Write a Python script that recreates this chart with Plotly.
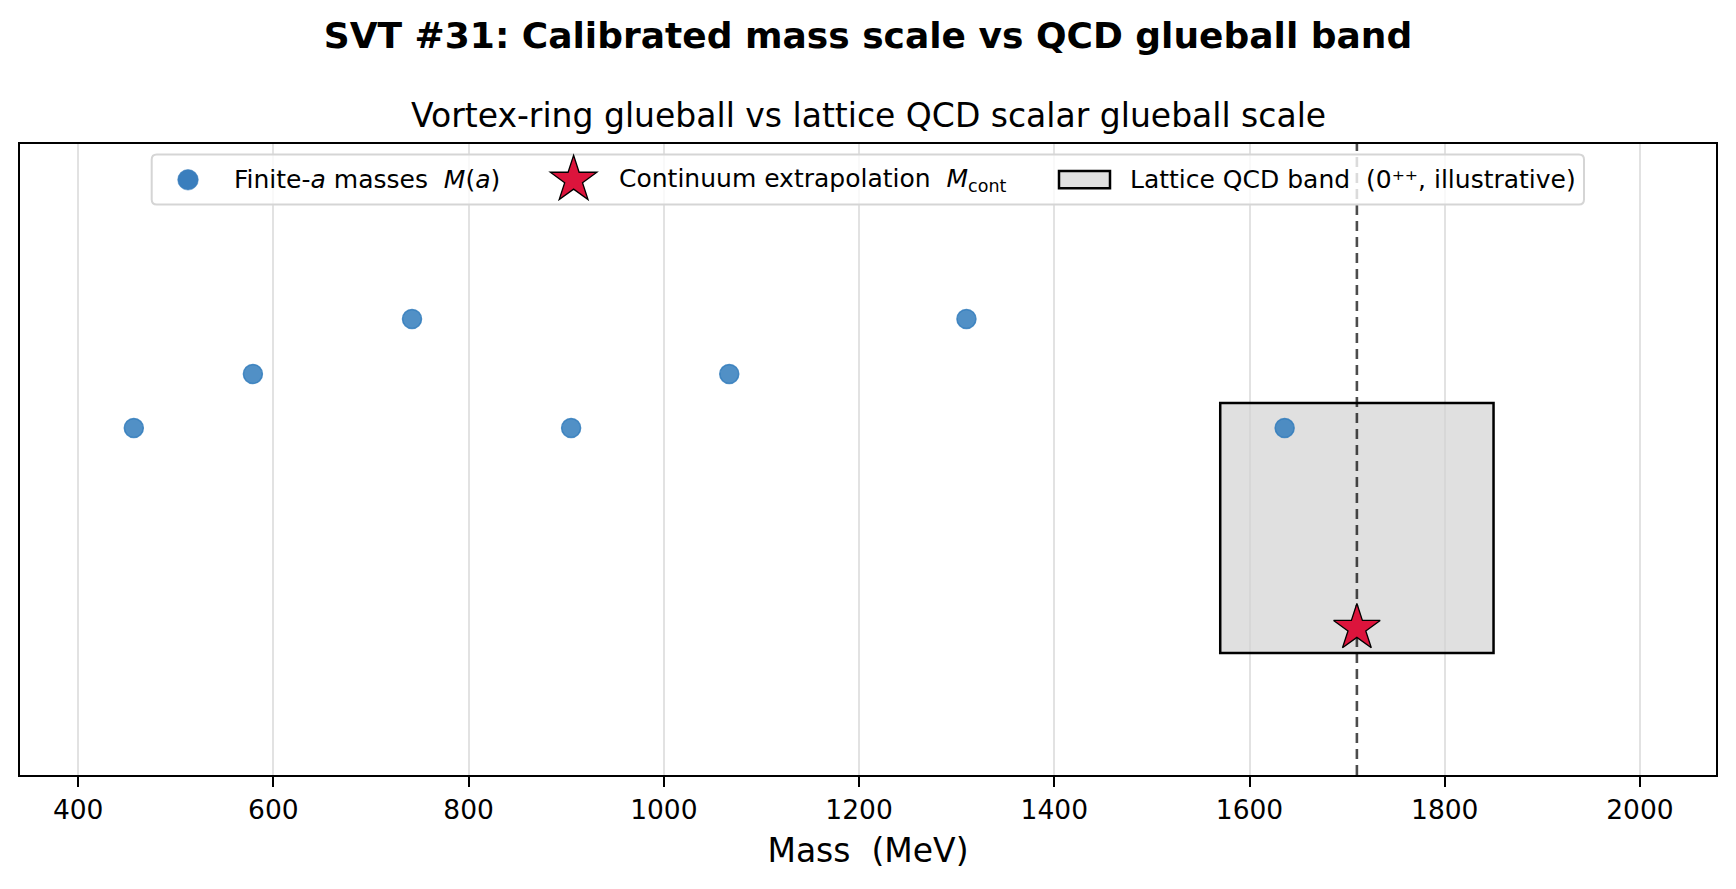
import math
import plotly.graph_objects as go

# ---------------- data ----------------
mass_finite = [457, 579, 742, 905, 1067, 1310, 1636]          # MeV, finite-a masses M(a)
row_finite = [1.0, 1.27, 1.545, 1.0, 1.27, 1.545, 1.0]         # vertical placement (no units)
mass_cont = [1710]                                             # MeV, continuum extrapolation
row_cont = [0.0]
band_mass = [1570, 1850]                                       # lattice QCD 0++ band (MeV)
band_rows = [-0.125, 1.125]
x_tick_vals = [400, 600, 800, 1000, 1200, 1400, 1600, 1800, 2000]
x_tick_text = ["400", "600", "800", "1000", "1200", "1400", "1600", "1800", "2000"]
x_range = [340.4, 2077.9]
y_range = [-0.735, 2.42]

title_text = "SVT #31: Calibrated mass scale vs QCD glueball band"
subtitle_text = "Vortex-ring glueball vs lattice QCD scalar glueball scale"
xlabel_text = "Mass\u00a0\u00a0(MeV)"
legend_labels = [
    "Finite-<i>a</i> masses\u00a0\u00a0<i>M</i>(<i>a</i>)",
    "Continuum extrapolation\u00a0\u00a0<i>M</i><sub>cont</sub>",
    "Lattice QCD band\u00a0\u00a0(0\u207a\u207a, illustrative)",
]

# ---------------- geometry helpers ----------------
W, H = 1736, 889
ML, MR, MT, MB = 20, 20, 144, 114
PW, PH = W - ML - MR, H - MT - MB
FONT = "DejaVu Sans"


def px(x):
    return (x - ML) / PW


def py(y):
    return (H - MB - y) / PH


fig = go.Figure()

fig.add_trace(go.Scatter(
    x=mass_finite, y=row_finite, mode="markers", name="Finite-a masses M(a)",
    marker=dict(size=19, color="rgba(51,124,188,0.85)",
                line=dict(color="rgba(51,124,188,0.85)", width=1.5)),
    showlegend=False, hoverinfo="x"))

fig.add_trace(go.Scatter(
    x=mass_cont, y=row_cont, mode="markers", name="Continuum extrapolation M_cont",
    marker=dict(symbol="star", size=35, color="#dc143c",
                line=dict(color="black", width=1.3)),
    showlegend=False, hoverinfo="x"))

shapes = []
# lattice band
shapes.append(dict(type="rect", xref="x", yref="y", layer="between",
                   x0=band_mass[0], x1=band_mass[1], y0=band_rows[0], y1=band_rows[1],
                   fillcolor="rgba(211,211,211,0.7)", line=dict(color="black", width=2.5)))
# continuum dashed line (spans the whole axis height)
shapes.append(dict(type="line", xref="x", yref="y", layer="between",
                   x0=mass_cont[0], x1=mass_cont[0], y0=y_range[0], y1=y_range[1],
                   line=dict(color="rgba(0,0,0,0.7)", width=2.6, dash="10px,6px")))

# ---------------- manual legend (matches matplotlib legend look) ----------------
LX0, LX1, LY0, LY1, R = 151.7, 1584.0, 154.5, 204.5, 5.0
frame_pts = (
    f"M {px(LX0+R)},{py(LY0)} L {px(LX1-R)},{py(LY0)} "
    f"Q {px(LX1)},{py(LY0)} {px(LX1)},{py(LY0+R)} L {px(LX1)},{py(LY1-R)} "
    f"Q {px(LX1)},{py(LY1)} {px(LX1-R)},{py(LY1)} L {px(LX0+R)},{py(LY1)} "
    f"Q {px(LX0)},{py(LY1)} {px(LX0)},{py(LY1-R)} L {px(LX0)},{py(LY0+R)} "
    f"Q {px(LX0)},{py(LY0)} {px(LX0+R)},{py(LY0)} Z"
)
shapes.append(dict(type="path", xref="paper", yref="paper", layer="above", path=frame_pts,
                   fillcolor="rgba(255,255,255,0.8)", line=dict(color="#d5d5d5", width=2)))
LCY = 179.8
# circle glyph
shapes.append(dict(type="circle", xref="paper", yref="paper", layer="above",
                   x0=px(188 - 10.3), x1=px(188 + 10.3), y0=py(LCY + 10.3), y1=py(LCY - 10.3),
                   fillcolor="#3a7ebd", line=dict(color="#3a7ebd", width=0.5)))
# star glyph
scx, scy, Ro = 573.6, LCY, 24.5
pts = []
for k in range(10):
    ang = math.radians(-90 + 36 * k)
    rr = Ro if k % 2 == 0 else Ro * 0.382
    pts.append((scx + rr * math.cos(ang), scy + rr * math.sin(ang)))
star_path = "M " + " L ".join(f"{px(a)},{py(b)}" for a, b in pts) + " Z"
shapes.append(dict(type="path", xref="paper", yref="paper", layer="above", path=star_path,
                   fillcolor="#dc143c", line=dict(color="black", width=1.3)))
# band glyph
shapes.append(dict(type="rect", xref="paper", yref="paper", layer="above",
                   x0=px(1059), x1=px(1110), y0=py(188.2), y1=py(171.0),
                   fillcolor="#e0e0e0", line=dict(color="black", width=2.5)))

annotations = []
for lbl, tx in zip(legend_labels, [233.7, 619.0, 1130.0]):
    annotations.append(dict(text=lbl, xref="paper", yref="paper", x=px(tx - 2), y=py(LCY),
                            xanchor="left", yanchor="middle", showarrow=False,
                            font=dict(family=FONT, size=25, color="black")))
annotations.append(dict(text=subtitle_text, xref="paper", yref="paper", x=0.5, y=py(115.5),
                        xanchor="center", yanchor="middle", showarrow=False,
                        font=dict(family=FONT, size=33, color="black")))

fig.update_layout(
    width=W, height=H,
    margin=dict(l=ML, r=MR, t=MT, b=MB, autoexpand=False),
    paper_bgcolor="white", plot_bgcolor="white",
    font=dict(family=FONT, color="black"),
    title=dict(text=f"<b>{title_text}</b>", x=0.5, xref="container", xanchor="center",
               y=1 - 35.5 / H, yref="container", yanchor="middle",
               font=dict(family=FONT, size=36, color="black")),
    shapes=shapes, annotations=annotations, showlegend=False,
    xaxis=dict(range=x_range, tickvals=x_tick_vals, ticktext=x_tick_text,
               ticks="outside", ticklen=10, tickwidth=2.2, tickcolor="black",
               showgrid=True, gridcolor="#e2e2e2", gridwidth=2,
               showline=True, linecolor="black", linewidth=2.2, mirror=True,
               zeroline=False, tickfont=dict(family=FONT, size=26.5, color="black"),
               title=dict(text=xlabel_text, font=dict(family=FONT, size=33, color="black"),
                          standoff=15),
               automargin=False),
    yaxis=dict(range=y_range, showticklabels=False, ticks="", showgrid=False,
               zeroline=False, showline=True, linecolor="black", linewidth=2.2,
               mirror=True, automargin=False),
)

fig.write_html("out.html")
